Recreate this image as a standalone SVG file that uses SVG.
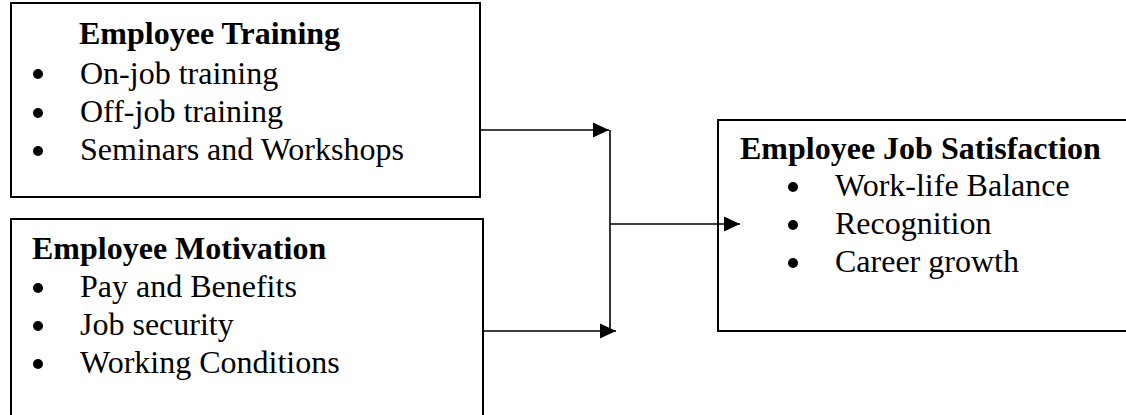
<svg xmlns="http://www.w3.org/2000/svg" width="1126" height="415" viewBox="0 0 1126 415">
  <style>
    .box { fill: #fff; stroke: #000; stroke-width: 2; }
    .title { font-family: "Liberation Serif", "Times New Roman", serif; font-size: 32px; font-weight: bold; fill: #000; }
    .item { font-family: "Liberation Serif", "Times New Roman", serif; font-size: 32px; fill: #000; }
    .bullet { fill: #000; }
    .wire { fill: none; stroke: #000; stroke-width: 1.6; }
  </style>
  <defs>
    <marker id="head" markerUnits="userSpaceOnUse" markerWidth="16" markerHeight="16" viewBox="0 0 16 16" refX="16" refY="8" orient="auto">
      <path d="M0,0.5 L16,8 L0,15.5 Z" fill="#000"/>
    </marker>
  </defs>

  <rect width="1126" height="415" fill="#fff"/>

  <g id="employee-training">
    <rect class="box" x="11" y="3" width="469" height="194"/>
    <text class="title" x="79" y="44">Employee Training</text>
    <circle class="bullet" cx="38" cy="74" r="5"/>
    <text class="item" x="80" y="84">On-job training</text>
    <circle class="bullet" cx="38" cy="113" r="5"/>
    <text class="item" x="80" y="122">Off-job training</text>
    <circle class="bullet" cx="38" cy="151" r="5"/>
    <text class="item" x="80" y="160">Seminars and Workshops</text>
  </g>

  <g id="employee-motivation">
    <rect class="box" x="11" y="219" width="472" height="210"/>
    <text class="title" x="32" y="259">Employee Motivation</text>
    <circle class="bullet" cx="38" cy="288" r="5"/>
    <text class="item" x="80" y="297">Pay and Benefits</text>
    <circle class="bullet" cx="38" cy="326" r="5"/>
    <text class="item" x="80" y="335">Job security</text>
    <circle class="bullet" cx="38" cy="364" r="5"/>
    <text class="item" x="80" y="373">Working Conditions</text>
  </g>

  <g id="job-satisfaction">
    <rect class="box" x="718" y="120" width="420" height="211"/>
    <text class="title" x="740" y="159">Employee Job Satisfaction</text>
    <circle class="bullet" cx="793" cy="187" r="5"/>
    <text class="item" x="835" y="196">Work-life Balance</text>
    <circle class="bullet" cx="793" cy="225" r="5"/>
    <text class="item" x="835" y="234">Recognition</text>
    <circle class="bullet" cx="793" cy="263" r="5"/>
    <text class="item" x="835" y="272">Career growth</text>
  </g>

  <g id="connectors">
    <line class="wire" x1="480" y1="130" x2="609" y2="130" marker-end="url(#head)"/>
    <line class="wire" x1="483" y1="331" x2="616" y2="331" marker-end="url(#head)"/>
    <line class="wire" x1="610" y1="130" x2="610" y2="331"/>
    <line class="wire" x1="610" y1="224" x2="740" y2="224" marker-end="url(#head)"/>
  </g>
</svg>
